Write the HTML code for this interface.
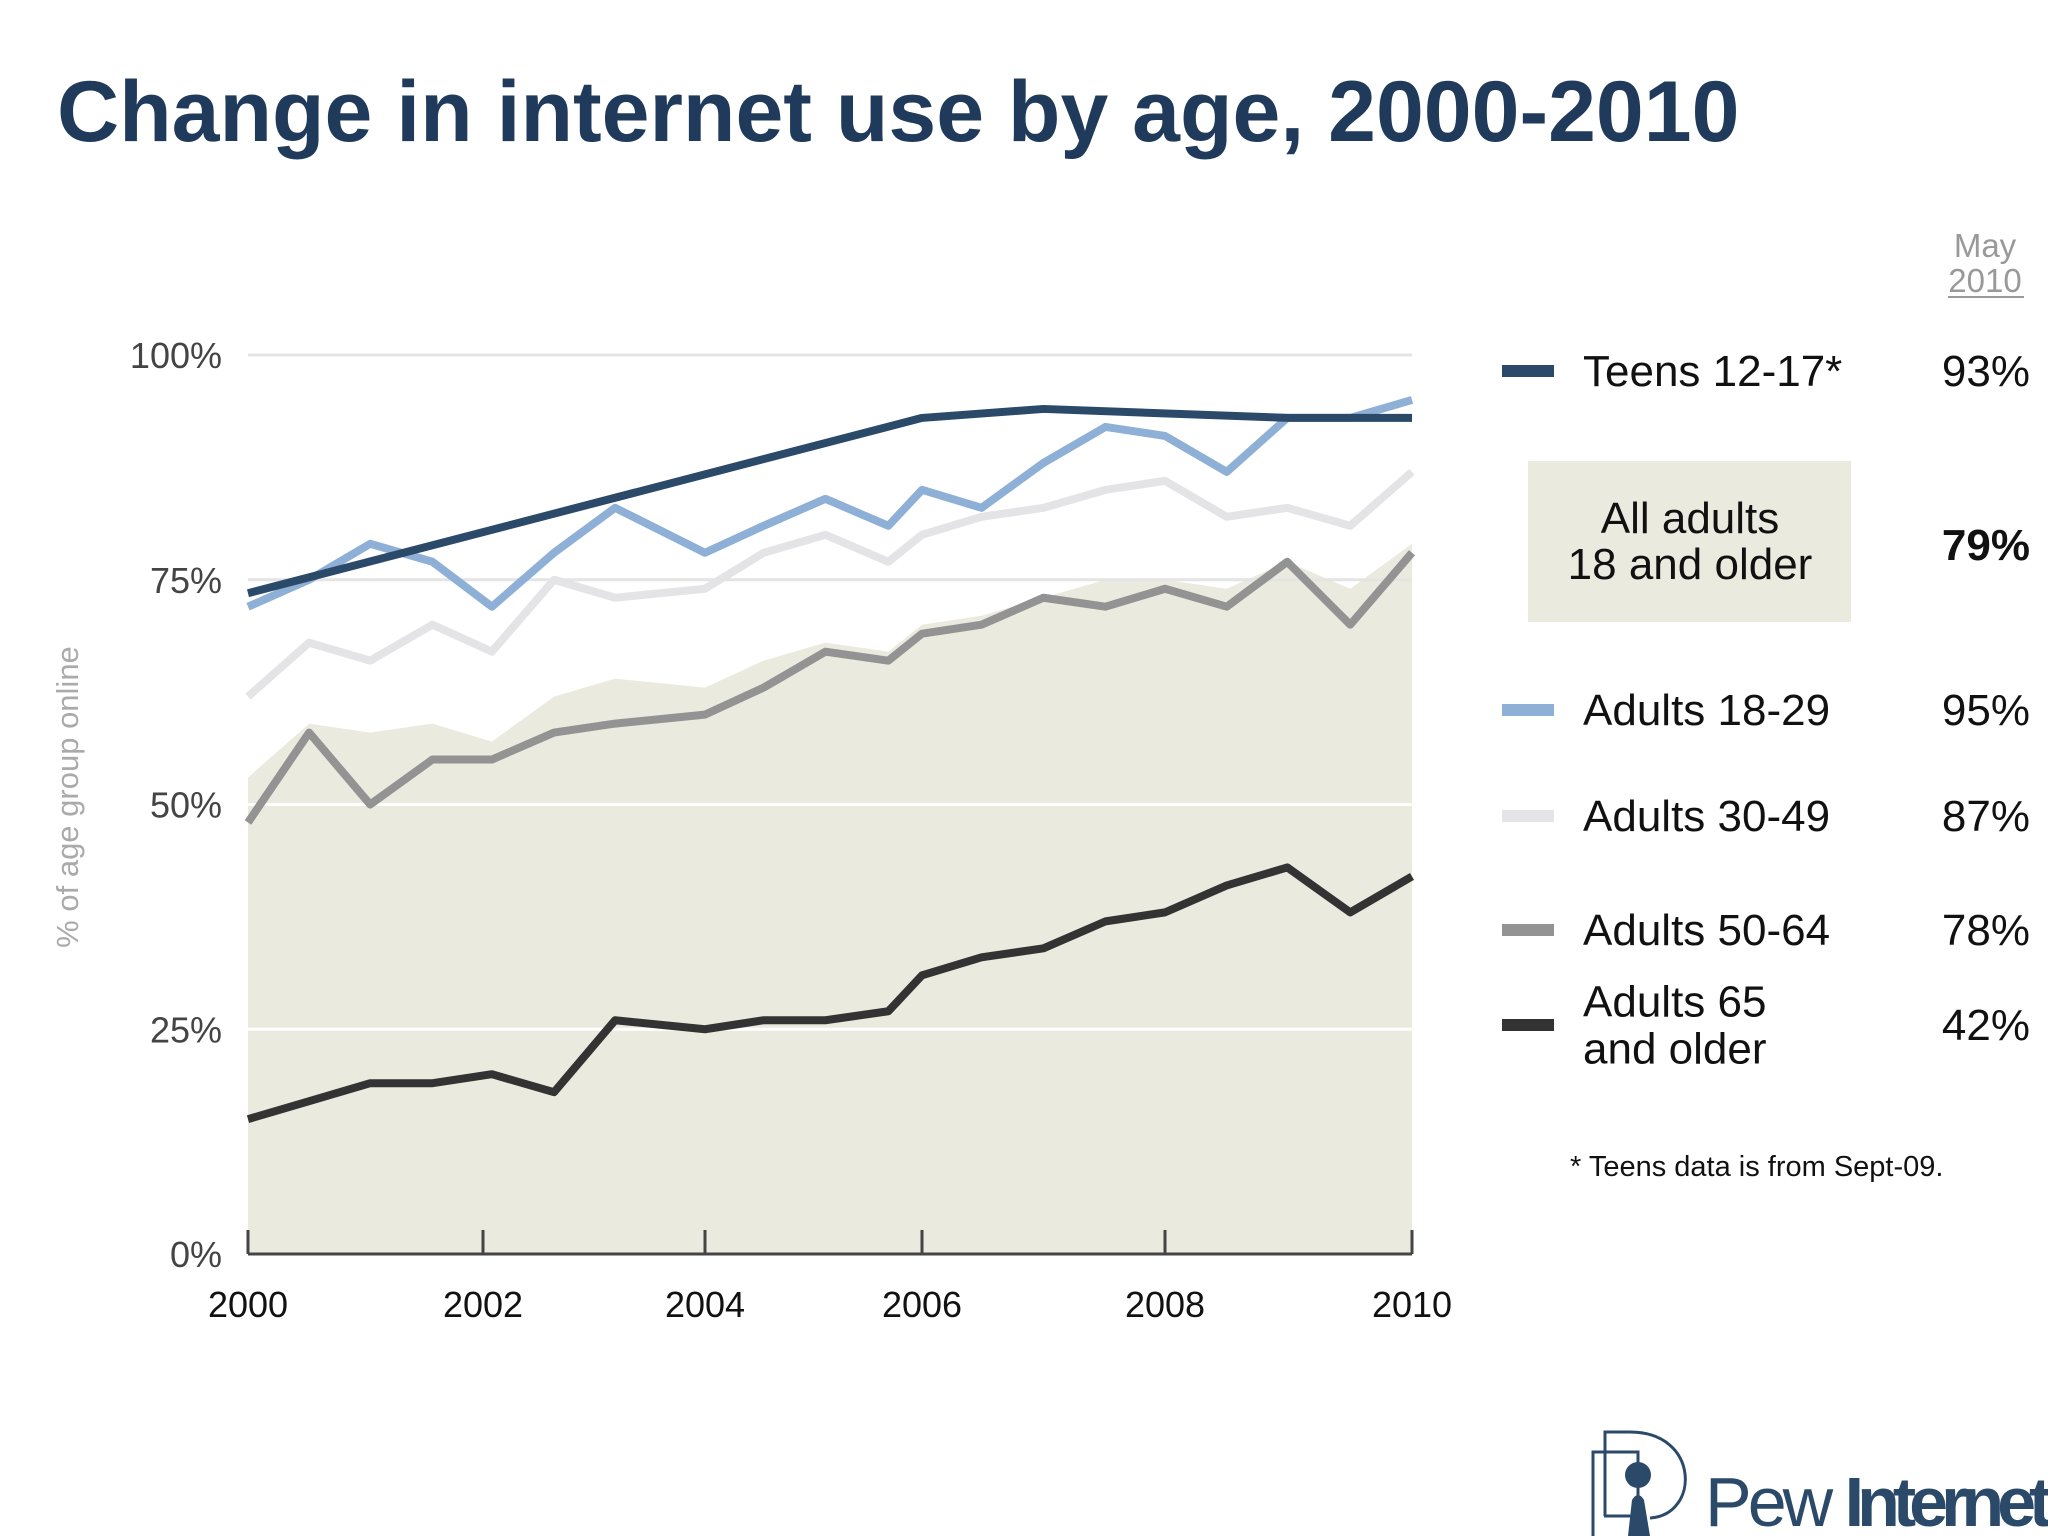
<!DOCTYPE html>
<html><head><meta charset="utf-8"><style>
html,body{margin:0;padding:0;background:#fff;}
svg{display:block;font-family:"Liberation Sans",Arial,sans-serif;}
</style></head><body>
<svg id="chart" width="2048" height="1536" viewBox="0 0 2048 1536" xmlns="http://www.w3.org/2000/svg">
<text x="57" y="141" font-size="86" font-weight="bold" fill="#1f3a5a">Change in internet use by age, 2000-2010</text>
<g id="plot"></g>
<text transform="translate(78,797) rotate(-90)" text-anchor="middle" font-size="31" fill="#aaaaaa">% of age group online</text>
<g id="legend"></g>
<g fill="none" stroke="#2b4a6a" stroke-width="3">
<path d="M1593,1536 V1452 H1638 V1516 H1604"/>
<path d="M1605,1516 V1432 H1630 C1700,1432 1700,1515 1650,1518"/>
<circle cx="1638" cy="1475" r="13" fill="#2b4a6a" stroke="none"/>
<path d="M1628,1536 L1632,1500 Q1638,1490 1644,1500 L1650,1536 Z" fill="#2b4a6a" stroke="none"/>
</g>
<text x="1705" y="1526" font-size="70" fill="#2b4a6a" letter-spacing="-4">Pew <tspan font-weight="bold" letter-spacing="-7">Internet</tspan></text>
</svg>
<script>
const years = [2000,2000.52,2001.04,2001.57,2002.08,2002.64,2003.19,2004,2004.54,2005.11,2005.69,2006,2006.49,2007,2007.51,2008,2008.5,2008.99,2009.5,2010];
const allAdults = [53,59,58,59,57,62,64,63,66,68,67,70,71,73,75,75,74,77,74,79];
const adults1829 = [72,75,79,77,72,78,83,78,81,84,81,85,83,88,92,91,87,93,93,95];
const adults3049 = [62,68,66,70,67,75,73,74,78,80,77,80,82,83,85,86,82,83,81,87];
const adults5064 = [48,58,50,55,55,58,59,60,63,67,66,69,70,73,72,74,72,77,70,78];
const adults65 = [15,17,19,19,20,18,26,25,26,26,27,31,33,34,37,38,41,43,38,42];
const teenYears = [2000,2006,2007,2009,2010];
const teens = [73.5,93,94,93,93];
const yTicks = [0,25,50,75,100];
const yTickLabels = ['0%','25%','50%','75%','100%'];
const xTicks = [2000,2002,2004,2006,2008,2010];
const legendLabels = ['Teens 12-17*','Adults 18-29','Adults 30-49','Adults 50-64','Adults 65|and older'];
const legendValues = ['93%','95%','87%','78%','42%'];
const allAdultsValue = '79%';

const NS='http://www.w3.org/2000/svg';
const Y0=1254,Y1=355,X0=248,X1=1412;
const axisPx=[248,483,705,922,1165,1412];
function xs(y){
  for(let i=0;i<xTicks.length-1;i++){
    if(y<=xTicks[i+1]||i===xTicks.length-2){
      const f=(y-xTicks[i])/(xTicks[i+1]-xTicks[i]);
      return axisPx[i]+f*(axisPx[i+1]-axisPx[i]);
    }
  }
}
const ys=v=>Y0-v/100*(Y0-Y1);
function mk(tag,attrs,parent){const e=document.createElementNS(NS,tag);for(const k in attrs)e.setAttribute(k,attrs[k]);parent.appendChild(e);return e;}
const plot=document.getElementById('plot');

let d='M'+xs(years[0])+','+ys(0);
years.forEach((y,i)=>{d+=' L'+xs(y)+','+ys(allAdults[i]);});
d+=' L'+xs(years[years.length-1])+','+ys(0)+' Z';
const area=mk('path',{d:d,fill:'#ebeadf'},plot);



yTicks.forEach((t,i)=>{
  if(t>0){
    const g=mk('line',{x1:X0,x2:X1,y1:ys(t),y2:ys(t),stroke:t>=75?'#e4e4e4':'#ffffff','stroke-width':3},plot);
    
    
  }
  const l=mk('text',{x:222,y:ys(t)+13,'text-anchor':'end','font-size':36,fill:'#444'},plot);
  l.textContent=yTickLabels[i];
  
  
});

function line(xArr,vals,color,name){
  const p=mk('polyline',{points:xArr.map((y,i)=>xs(y)+','+ys(vals[i])).join(' '),fill:'none',stroke:color,'stroke-width':8,'stroke-linejoin':'round'},plot);
  
  
}
line(years,adults3049,'#e4e4e6','line-adults-30-49');
line(years,adults5064,'#939393','line-adults-50-64');
line(years,adults65,'#333333','line-adults-65-older');
line(years,adults1829,'#8eb0d6','line-adults-18-29');
line(teenYears,teens,'#2b4a6a','line-teens-12-17');

const ax=mk('line',{x1:X0,x2:X1,y1:Y0,y2:Y0,stroke:'#444','stroke-width':3},plot);


xTicks.forEach(t=>{
  const tk=mk('line',{x1:xs(t),x2:xs(t),y1:Y0,y2:Y0-24,stroke:'#444','stroke-width':3},plot);
  
  
  const l=mk('text',{x:xs(t),y:Y0+63,'text-anchor':'middle','font-size':36,fill:'#111'},plot);
  l.textContent=t;
  
  
});

const lg=document.getElementById('legend');
const hdr1=mk('text',{x:1985,y:257,'text-anchor':'middle','font-size':33,fill:'#999'},lg);
hdr1.textContent='May';


const hdr2=mk('text',{x:1985,y:292,'text-anchor':'middle','font-size':33,fill:'#999'},lg);
hdr2.textContent='2010';


mk('line',{x1:1948,x2:2024,y1:297,y2:297,stroke:'#999','stroke-width':2},lg);

const colors=['#2b4a6a','#8eb0d6','#e4e4e6','#939393','#333333'];
const rowY=[371,710,816,930,1025];
legendLabels.forEach((lab,i)=>{
  const g=mk('g',{},lg);
  
  
  mk('rect',{x:1502,y:rowY[i]-6,width:52,height:12,fill:colors[i]},g);
  const parts=lab.split('|');
  parts.forEach((p,j)=>{
    const t=mk('text',{x:1583,y:rowY[i]+15+(parts.length>1?(j-0.5)*47:0),'font-size':44,fill:'#111'},g);
    t.textContent=p;
  });
  const v=mk('text',{x:2030,y:rowY[i]+15,'text-anchor':'end','font-size':44,fill:'#111'},g);
  v.textContent=legendValues[i];
});
const box=mk('rect',{x:1528,y:461,width:323,height:161,fill:'#ebeadf'},lg);


['All adults','18 and older'].forEach((s,j)=>{
  const t=mk('text',{x:1690,y:533+j*46,'text-anchor':'middle','font-size':44,fill:'#111'},lg);
  t.textContent=s;
  
  
});
const av=mk('text',{x:2030,y:560,'text-anchor':'end','font-size':44,'font-weight':'bold',fill:'#111'},lg);
av.textContent=allAdultsValue;


const fn=mk('text',{x:1570,y:1176,'font-size':29,fill:'#111'},lg);
fn.textContent='* Teens data is from Sept-09.';


</script>
</body></html>
